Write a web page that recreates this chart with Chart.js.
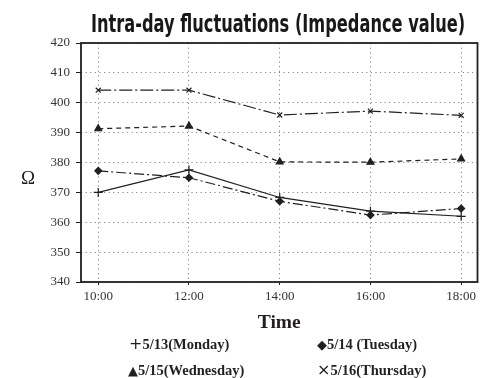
<!DOCTYPE html>
<html>
<head>
<meta charset="utf-8">
<script src="https://cdn.jsdelivr.net/npm/chart.js@4/dist/chart.umd.min.js"></script>
<style>
  html, body { margin: 0; padding: 0; background: #fff; }
  #wrap { position: relative; width: 487px; height: 378px; }
  #impedanceChart { position: absolute; left: 0; top: 0; }
  .title {
    position: absolute; left: 278px; top: 10px; line-height: 28px;
    font: bold 24px "Liberation Sans Narrow", "DejaVu Sans Condensed", sans-serif;
    color: #1a1718; white-space: nowrap; transform-origin: 0 0;
  }
  .ohm {
    position: absolute; left: 21px; top: 167px;
    font: 19px "Liberation Serif", serif; color: #231f20;
  }
  .legend-item {
    position: absolute; font: bold 14.5px "Liberation Serif", serif; color: #231f20;
    white-space: nowrap; line-height: 16px;
  }
  .legend-item .sym { font-weight: normal; font-family: "DejaVu Sans", sans-serif; }
</style>
</head>
<body>
<div id="wrap">
  <canvas id="impedanceChart" width="487" height="378"></canvas>
  <div class="title" id="title">Intra-day fluctuations (Impedance value)</div>
  <div class="ohm">Ω</div>
  <div class="legend-item" style="left:129px;top:336px"><span class="sym" style="font-size:16px">+</span>5/13(Monday)</div>
  <div class="legend-item" style="left:317px;top:336px"><span class="sym" style="font-size:13px">◆</span>5/14 (Tuesday)</div>
  <div class="legend-item" style="left:128px;top:362px"><span class="sym" style="font-size:13px">▲</span>5/15(Wednesday)</div>
  <div class="legend-item" style="left:317px;top:362px"><span class="sym" style="font-size:16px">×</span>5/16(Thursday)</div>
</div>
<script>
// measurement times (hour of day) and their labels
const hours = [10, 12, 14, 16, 18];
const hourLabels = ['10:00', '12:00', '14:00', '16:00', '18:00'];

// impedance readings per day
const monday = [370, 377.5, 368.3, 363.7, 362];
const tuesday = [377.2, 374.9, 367, 362.4, 364.6];
const wednesday = [391.3, 392.2, 380.2, 380.1, 381.2];
const thursday = [404.2, 404.2, 395.9, 397.2, 395.8];

const yTicks = [340, 350, 360, 370, 380, 390, 400, 410, 420];

// squeeze the heading into a condensed width, centred over the plot
const titleEl = document.getElementById('title');
const titleW = titleEl.offsetWidth;
const sx = 374 / titleW;
titleEl.style.transform = `translateX(${-374 / 2}px) scaleX(${sx})`;

const ink = '#231f20';
const toPoints = (vals) => vals.map((v, i) => ({ x: hours[i], y: v }));

function series(label, vals, style, radius, dash) {
    return {
        label: label,
        data: toPoints(vals),
        borderColor: ink,
        backgroundColor: ink,
        borderWidth: 1.2,
        borderDash: dash,
        pointStyle: style,
        pointRadius: radius,
        pointBorderWidth: 1.2,
        pointBorderColor: ink,
        pointBackgroundColor: ink,
        tension: 0,
        fill: false,
    };
}

// box around the plotting area
const frame = {
    id: 'frame',
    afterDraw(chart) {
        const { ctx, chartArea: a } = chart;
        ctx.save();
        ctx.strokeStyle = ink;
        ctx.lineWidth = 1.8;
        ctx.strokeRect(a.left, a.top, a.right - a.left, a.bottom - a.top);
        ctx.restore();
    }
};

const ctx = document.getElementById('impedanceChart').getContext('2d');
new Chart(ctx, {
    type: 'line',
    data: {
        datasets: [
            series('5/13(Monday)', monday, 'cross', 4.5, []),
            series('5/14 (Tuesday)', tuesday, 'rectRot', 3.5, [10, 3, 2, 3]),
            series('5/15(Wednesday)', wednesday, 'triangle', 4, [5, 4]),
            series('5/16(Thursday)', thursday, 'crossRot', 3.5, [13, 3, 2, 3]),
        ],
    },
    options: {
        responsive: false,
        animation: false,
        layout: { padding: { top: 43, left: 0, right: 9.5, bottom: 43 } },
        plugins: {
            legend: { display: false },
            tooltip: { enabled: false },
        },
        scales: {
            x: {
                type: 'linear',
                min: 9.62,
                max: 18.36,
                afterFit: (s) => { s.height = 53; },
                afterBuildTicks: (s) => { s.ticks = hours.map(v => ({ value: v })); },
                ticks: {
                    padding: 4,
                    color: '#333',
                    font: { family: 'Liberation Serif', size: 13 },
                    callback: (v) => hourLabels[hours.indexOf(v)],
                },
                grid: {
                    color: '#888',
                    lineWidth: 1,
                    tickLength: 3,
                    tickColor: ink,
                    tickBorderDash: [],
                },
                border: { display: false, dash: [1.2, 3.4] },
                title: {
                    display: true,
                    text: 'Time',
                    color: ink,
                    padding: 0,
                    font: { family: 'Liberation Serif', size: 19.5, weight: 'bold' },
                },
            },
            y: {
                min: 340,
                max: 420,
                afterFit: (s) => { s.width = 81; },
                afterBuildTicks: (s) => { s.ticks = yTicks.map(v => ({ value: v })); },
                ticks: {
                    padding: 6,
                    color: '#333',
                    font: { family: 'Liberation Serif', size: 13 },
                },
                grid: {
                    color: '#888',
                    lineWidth: 1,
                    tickLength: 5,
                    tickColor: ink,
                    tickBorderDash: [],
                },
                border: { display: false, dash: [1.2, 3.4] },
            },
        },
    },
    plugins: [frame],
});
</script>
</body>
</html>
